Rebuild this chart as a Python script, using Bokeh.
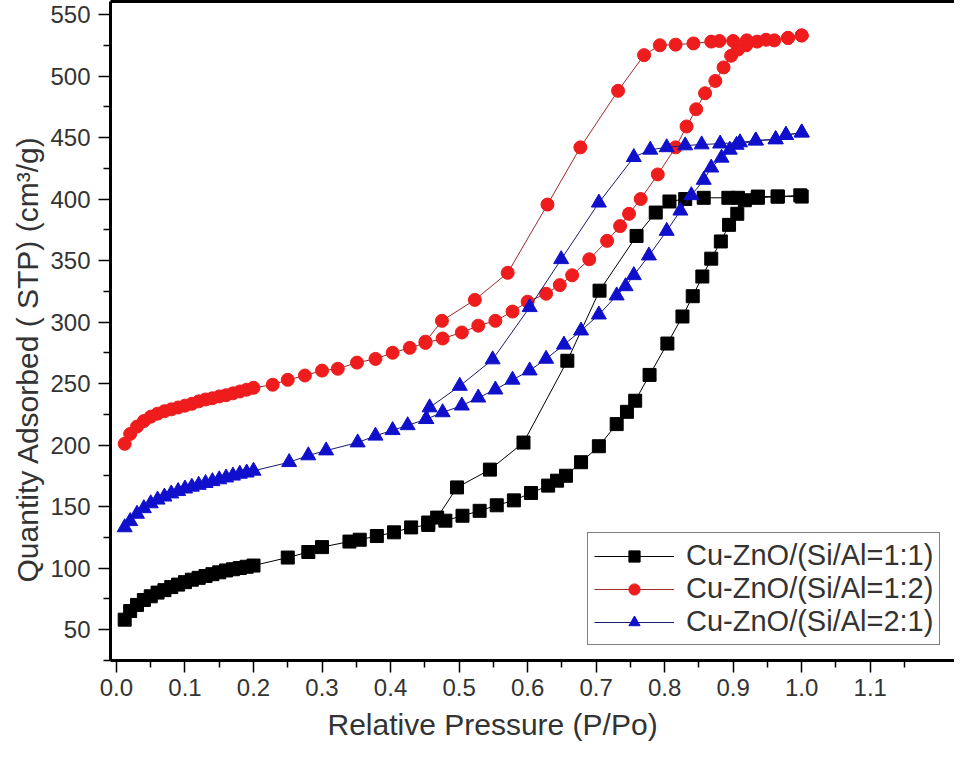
from bokeh.plotting import figure
from bokeh.models import (FixedTicker, LinearAxis, Legend, LegendItem, Title,
                          PrintfTickFormatter, Range1d)
from bokeh.embed import file_html
from bokeh.resources import INLINE

# ---------------- data ----------------
series_labels = ["Cu-ZnO/(Si/Al=1:1)", "Cu-ZnO/(Si/Al=1:2)", "Cu-ZnO/(Si/Al=2:1)"]

# Cu-ZnO/(Si/Al=1:1)  adsorption then desorption
black_ads_x = [0.012, 0.02, 0.03, 0.04, 0.05, 0.06, 0.07, 0.08, 0.09, 0.10, 0.11, 0.12, 0.13,
               0.14, 0.15, 0.16, 0.17, 0.18, 0.19, 0.20, 0.25, 0.28, 0.30, 0.34, 0.355, 0.38,
               0.405, 0.43, 0.455, 0.48, 0.505, 0.53, 0.555, 0.58, 0.605, 0.63, 0.643, 0.656,
               0.678, 0.704, 0.73, 0.745, 0.757, 0.778, 0.804, 0.826, 0.841, 0.855, 0.868,
               0.882, 0.894, 0.906, 0.917, 0.936, 0.965, 0.998]
black_ads_y = [58, 65, 70, 74, 77, 80, 82, 84.5, 86.5, 88.5, 90.5, 92, 93.5, 95, 96.5, 98, 99,
               100, 101, 102, 108.5, 113, 117, 121.5, 123, 126, 129, 133, 135, 138.5, 142.5,
               146.5, 151, 155, 161, 167, 171, 175, 186, 199, 217, 227, 236, 257, 282.5, 304.5,
               321, 337, 351.5, 365.5, 379, 388, 399, 401, 402, 403]
black_des_x = [1.0, 0.965, 0.936, 0.907, 0.893, 0.857, 0.83, 0.807, 0.787, 0.759, 0.705,
               0.658, 0.594, 0.545, 0.497, 0.468, 0.455]
black_des_y = [402, 402, 402, 401, 401, 401, 400, 398, 389, 370, 325.5, 268.5, 202, 180,
               165.5, 141, 137]

# Cu-ZnO/(Si/Al=1:2)
red_ads_x = [0.012, 0.02, 0.03, 0.04, 0.05, 0.06, 0.07, 0.08, 0.09, 0.10, 0.11, 0.12, 0.13,
             0.14, 0.15, 0.16, 0.17, 0.18, 0.19, 0.20, 0.228, 0.25, 0.275, 0.30, 0.323, 0.351,
             0.378, 0.403, 0.428, 0.451, 0.476, 0.504, 0.528, 0.553, 0.578, 0.60, 0.627,
             0.647, 0.665, 0.69, 0.716, 0.735, 0.748, 0.765, 0.79, 0.816, 0.832, 0.846, 0.859,
             0.874, 0.886, 0.897, 0.907, 0.919, 0.935, 0.96, 0.98, 1.0]
red_ads_y = [201, 209, 215, 219.5, 223, 225.5, 227.5, 229, 230.5, 232, 233.5, 235.5, 237, 238,
             239.5, 240.5, 242, 243.5, 245, 246.5, 249, 253, 256.5, 260.5, 262, 267, 270, 275,
             279, 283, 286.6, 291.5, 297, 301, 308.5, 316.5, 323, 330, 338, 351, 366, 378, 388,
             400, 420, 442, 459, 473, 486, 496, 507, 516.5, 521.5, 525, 528, 529, 531, 533]
red_des_x = [1.0, 0.98, 0.948, 0.92, 0.90, 0.88, 0.868, 0.842, 0.816, 0.793, 0.77, 0.732,
             0.677, 0.629, 0.571, 0.523, 0.475, 0.451]
red_des_y = [533, 531, 529.5, 529, 528.5, 528.5, 528, 526.5, 525.5, 525, 517, 488, 442, 395.5,
             340, 318, 301, 284]

# Cu-ZnO/(Si/Al=2:1)
blue_ads_x = [0.012, 0.02, 0.03, 0.04, 0.05, 0.06, 0.07, 0.08, 0.09, 0.10, 0.11, 0.12, 0.13,
              0.14, 0.15, 0.16, 0.17, 0.18, 0.19, 0.20, 0.252, 0.28, 0.306, 0.352, 0.378, 0.403,
              0.425, 0.452, 0.476, 0.504, 0.528, 0.553, 0.578, 0.603, 0.627, 0.653, 0.678,
              0.704, 0.73, 0.743, 0.755, 0.777, 0.803, 0.823, 0.839, 0.857, 0.868, 0.883,
              0.895, 0.905, 0.933, 0.962, 0.977, 1.0]
blue_ads_y = [133, 138, 144, 148.5, 152.5, 155.5, 158, 160.5, 162.5, 164.5, 166, 167.5, 169,
              170.5, 172, 173.5, 175, 176.5, 177.5, 179, 186, 191.5, 195.5, 202, 207.5, 212,
              216, 221, 226.5, 232, 238.5, 245, 253, 260.5, 270, 281.5, 293, 306, 321.5, 329,
              338, 354, 374, 390.5, 403, 415.5, 425.5, 433.5, 440, 444, 447.5, 448.5, 452, 454]
blue_des_x = [1.0, 0.977, 0.962, 0.933, 0.91, 0.881, 0.854, 0.83, 0.803, 0.779, 0.755, 0.704,
              0.649, 0.603, 0.549, 0.501, 0.457, 0.452]
blue_des_y = [454, 452, 448.5, 447.5, 446, 445, 444.3, 443.5, 442, 440, 434, 397, 351, 312,
              269.5, 248, 230.5, 221]

x_major_ticks = [0.0, 0.1, 0.2, 0.3, 0.4, 0.5, 0.6, 0.7, 0.8, 0.9, 1.0, 1.1]
x_minor_ticks = [0.05, 0.15, 0.25, 0.35, 0.45, 0.55, 0.65, 0.75, 0.85, 0.95, 1.05, 1.15]
y_major_ticks = [50, 100, 150, 200, 250, 300, 350, 400, 450, 500, 550]
y_minor_ticks = [25, 75, 125, 175, 225, 275, 325, 375, 425, 475, 525]

x_title = "Relative Pressure (P/Po)"
y_title = "Quantity Adsorbed ( STP) (cm³/g)"

FONT = "Liberation Sans"
TXT = "#333333"

p = figure(width=954, height=750, output_backend="svg", toolbar_location=None,
           x_range=Range1d(-0.0087, 1.223), y_range=Range1d(24.8, 560.6),
           min_border_left=110, min_border_right=0, min_border_top=1, min_border_bottom=90,
           x_axis_location=None, y_axis_location=None)
p.grid.visible = False
p.outline_line_color = None
p.background_fill_color = "white"
p.border_fill_color = "white"

def style_axis(ax):
    ax.axis_line_width = 3
    ax.axis_line_color = "black"
    ax.major_tick_line_width = 1.5
    ax.minor_tick_line_width = 1.5
    ax.major_tick_in = 0
    ax.major_tick_out = 12
    ax.minor_tick_in = 0
    ax.minor_tick_out = 7
    ax.major_label_text_font = FONT
    ax.major_label_text_font_size = "24px"
    ax.major_label_text_color = TXT

xaxis = LinearAxis(ticker=FixedTicker(ticks=x_major_ticks, minor_ticks=x_minor_ticks),
                   formatter=PrintfTickFormatter(format="%.1f"))
style_axis(xaxis)
xaxis.major_label_standoff = 6
p.add_layout(xaxis, "below")

yaxis = LinearAxis(ticker=FixedTicker(ticks=y_major_ticks, minor_ticks=y_minor_ticks))
style_axis(yaxis)
yaxis.major_label_standoff = 8
p.add_layout(yaxis, "left")

top_axis = LinearAxis(ticker=FixedTicker(ticks=[]))
top_axis.axis_line_width = 3
top_axis.major_tick_out = 0
top_axis.minor_tick_out = 0
top_axis.major_label_text_font_size = "0px"
p.add_layout(top_axis, "above")

p.add_layout(Title(text=x_title, align="left", offset=217,
                   text_font=FONT, text_font_size="30px", text_font_style="normal",
                   text_color=TXT, standoff=14), "below")
p.add_layout(Title(text=y_title, align="left", offset=78,
                   text_font=FONT, text_font_size="30px", text_font_style="normal",
                   text_color=TXT, standoff=8), "left")

specs = [
    (black_ads_x + black_des_x, black_ads_y + black_des_y, "square", 13, "black", "black"),
    (red_ads_x + red_des_x, red_ads_y + red_des_y, "circle", 13, "#ee1c1c", "#a02828"),
    (blue_ads_x + blue_des_x, blue_ads_y + blue_des_y, "triangle", 15, "#1010cc", "#1a1a70"),
]
items = []
for (xs, ys, marker, size, col, lcol), lab in zip(specs, series_labels):
    ln = p.line(xs, ys, line_color=lcol, line_width=1)
    sc = p.scatter(xs, ys, marker=marker, size=size, fill_color=col, line_color=col)
    items.append(LegendItem(label=lab, renderers=[ln, sc]))

legend = Legend(items=items, location=(477, 15))
legend.label_text_font = FONT
legend.label_text_font_size = "29px"
legend.label_text_color = TXT
legend.glyph_width = 80
legend.glyph_height = 28
legend.label_height = 28
legend.label_standoff = 12
legend.spacing = 0
legend.padding = 6
legend.margin = 0
legend.border_line_color = "black"
legend.border_line_width = 1.5
legend.background_fill_color = "white"
p.add_layout(legend, "center")

open("out.html", "w").write(file_html(p, INLINE))
